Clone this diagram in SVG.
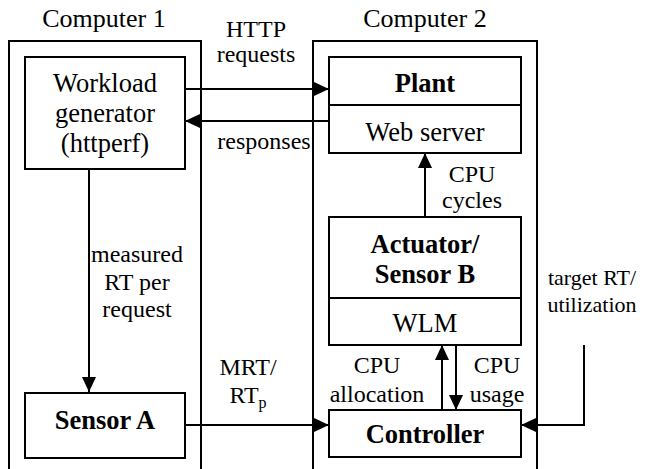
<svg xmlns="http://www.w3.org/2000/svg" width="645" height="469" viewBox="0 0 645 469">
<defs>
<marker id="ah" markerWidth="15" markerHeight="14" refX="15" refY="7" orient="auto" markerUnits="userSpaceOnUse">
<path d="M0,0 L15,7 L0,14 Z" fill="#000"/>
</marker>
<style>
text{font-family:"Liberation Serif","Times New Roman",serif;font-size:24px;fill:#000;text-anchor:middle}
.n{font-size:26.5px}
.t{font-size:26px}
.s{font-size:22px}
.b{font-weight:bold}
.box{fill:#fff;stroke:#000;stroke-width:2}
.ln{fill:none;stroke:#000;stroke-width:2}
</style>
</defs>
<rect width="645" height="469" fill="#fff"/>
<g id="computer1">
<rect class="box" x="9" y="41" width="192" height="440"/>
<text class="t" x="104" y="27">Computer 1</text>
</g>
<g id="computer2">
<rect class="box" x="313" y="41" width="224" height="440"/>
<text class="t" x="425" y="27">Computer 2</text>
</g>
<g id="workload">
<rect class="box" x="25" y="57" width="160" height="112"/>
<text class="n" x="105" y="92">Workload</text>
<text class="n" x="105" y="122">generator</text>
<text class="n" x="105" y="152">(httperf)</text>
</g>
<g id="sensorA">
<rect class="box" x="25" y="393" width="160" height="65"/>
<text class="n b" x="105" y="429">Sensor A</text>
</g>
<g id="plant">
<rect class="box" x="329" y="57" width="192" height="96"/>
<line class="ln" x1="329" y1="105" x2="521" y2="105"/>
<text class="n b" x="425" y="92">Plant</text>
<text class="n" x="425" y="141">Web server</text>
</g>
<g id="actuator">
<rect class="box" x="329" y="217" width="192" height="128"/>
<line class="ln" x1="329" y1="298" x2="521" y2="298"/>
<text class="n b" x="425" y="253">Actuator/</text>
<text class="n b" x="425" y="283">Sensor B</text>
<text class="n" x="425" y="332">WLM</text>
</g>
<g id="controller">
<rect class="box" x="329" y="410" width="192" height="47"/>
<text class="n b" x="425" y="443">Controller</text>
</g>
<g id="connectors">
<line class="ln" x1="185" y1="89" x2="329" y2="89" marker-end="url(#ah)"/>
<line class="ln" x1="329" y1="121" x2="185" y2="121" marker-end="url(#ah)"/>
<line class="ln" x1="89" y1="169" x2="89" y2="392" marker-end="url(#ah)"/>
<line class="ln" x1="185" y1="425" x2="329" y2="425" marker-end="url(#ah)"/>
<line class="ln" x1="425" y1="217" x2="425" y2="153" marker-end="url(#ah)"/>
<line class="ln" x1="442" y1="410" x2="442" y2="345" marker-end="url(#ah)"/>
<line class="ln" x1="456" y1="345" x2="456" y2="410" marker-end="url(#ah)"/>
<polyline class="ln" points="584,345 584,425 521,425" marker-end="url(#ah)"/>
</g>
<g id="labels">
<text x="256" y="37">HTTP</text>
<text x="256" y="62">requests</text>
<text x="264" y="149">responses</text>
<text x="137" y="262">measured</text>
<text x="137" y="290">RT per</text>
<text x="137" y="317">request</text>
<text x="248" y="375">MRT/</text>
<text x="248" y="403">RT<tspan font-size="16" dy="5">p</tspan></text>
<text x="472" y="182">CPU</text>
<text x="472" y="208">cycles</text>
<text x="377" y="373">CPU</text>
<text x="377" y="402">allocation</text>
<text x="497" y="373">CPU</text>
<text x="497" y="402">usage</text>
<text class="s" x="592" y="285">target RT/</text>
<text class="s" x="592" y="312">utilization</text>
</g>
</svg>
